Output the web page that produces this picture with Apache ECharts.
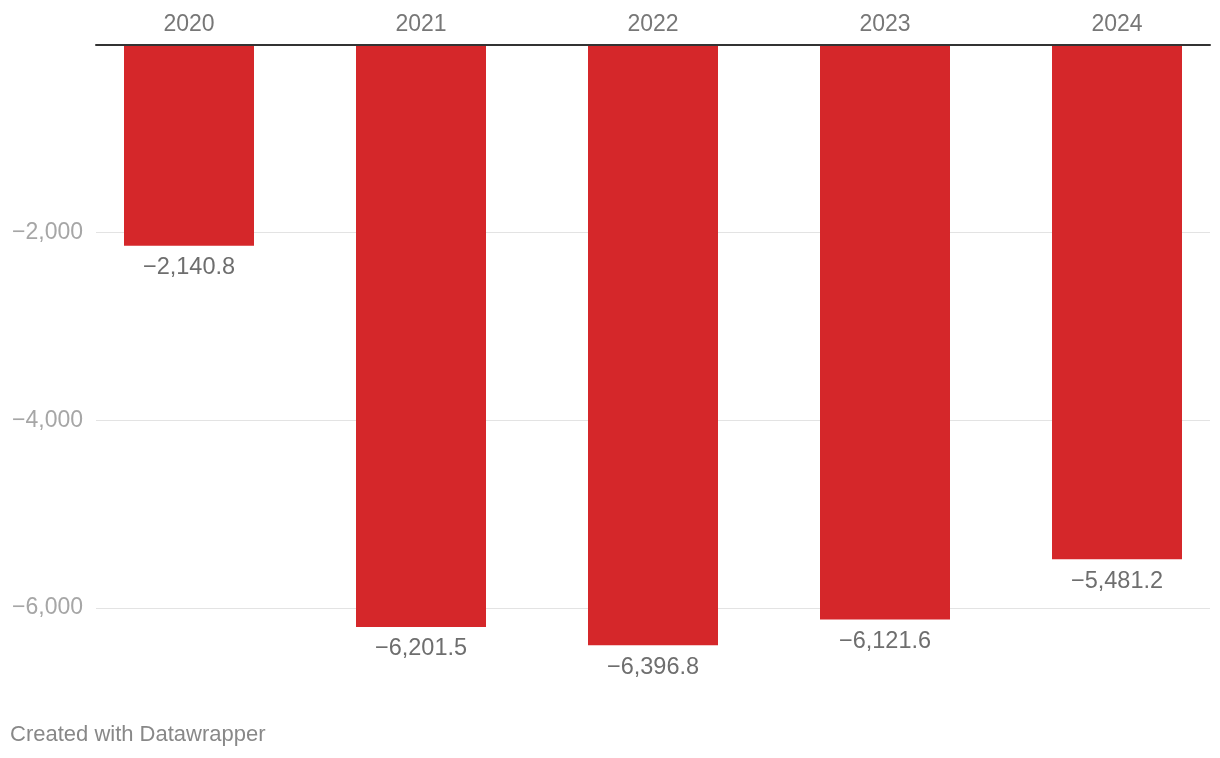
<!DOCTYPE html>
<html>
<head>
<meta charset="utf-8">
<script src="https://cdn.jsdelivr.net/npm/echarts@6/dist/echarts.min.js"></script>
<style>
html,body{margin:0;padding:0;background:#fff;}
#chart{width:1220px;height:758px;}
</style>
</head>
<body>
<div id="chart"></div>
<script>
const years = ['2020', '2021', '2022', '2023', '2024'];
const values = [-2140.8, -6201.5, -6396.8, -6121.6, -5481.2];
const yMin = -7000;
const yMax = 0;
const gridValues = [-2000, -4000, -6000];

const FONT = '"Liberation Sans", Arial, Helvetica, sans-serif';
function fmt(v, dec) {
  const s = Math.abs(v).toLocaleString('en-US', {minimumFractionDigits: dec, maximumFractionDigits: dec});
  return (v < 0 ? '\u2212' : '') + s;
}

const chart = echarts.init(document.getElementById('chart'), null, {renderer: 'canvas'});
chart.setOption({
  animation: false,
  backgroundColor: '#ffffff',
  textStyle: {fontFamily: FONT},
  grid: [
    {left: 73, width: 1160, top: 45, height: 656.8, containLabel: false, outerBoundsMode: 'none'},
    {left: 96, width: 1114, top: 45, height: 656.8, containLabel: false, outerBoundsMode: 'none'}
  ],
  xAxis: [
    {
      gridIndex: 0, type: 'category', data: years, position: 'top',
      axisLine: {show: false}, axisTick: {show: false}, splitLine: {show: false},
      axisLabel: {color: '#777777', fontSize: 23, fontFamily: FONT, margin: 9}
    },
    {
      gridIndex: 1, type: 'category', data: years, position: 'top', z: 10,
      axisLine: {show: true, lineStyle: {color: '#333333', width: 2}},
      axisTick: {show: false}, axisLabel: {show: false}, splitLine: {show: false}
    }
  ],
  yAxis: [
    {
      gridIndex: 0, type: 'value', min: yMin, max: yMax, interval: 1000,
      show: false, splitLine: {show: false}
    },
    {
      gridIndex: 1, type: 'value', min: yMin, max: yMax, interval: 1000,
      axisLine: {show: false}, axisTick: {show: false},
      splitLine: {show: false},
      axisLabel: {
        color: '#a6a6a6', fontSize: 23, fontFamily: FONT, margin: 13,
        formatter: function (v) { return gridValues.indexOf(v) >= 0 ? fmt(v, 0) : ''; }
      }
    }
  ],
  series: [
    {
      type: 'line', xAxisIndex: 1, yAxisIndex: 1, data: [], silent: true, z: 0,
      markLine: {
        silent: true, symbol: 'none', label: {show: false}, z: 0,
        lineStyle: {color: '#e3e3e3', width: 1, type: 'solid'},
        data: gridValues.map(function (v) { return {yAxis: v}; })
      }
    },
    {
      type: 'bar', xAxisIndex: 0, yAxisIndex: 0, data: values, barWidth: 130, z: 3,
      itemStyle: {color: '#d5272a'},
      label: {
        show: true, position: 'bottom', distance: 10,
        color: '#6e6e6e', fontSize: 23.5, fontFamily: FONT,
        formatter: function (p) { return fmt(p.value, 1); }
      }
    }
  ],
  graphic: [
    {
      type: 'text', left: 10, top: 724,
      style: {text: 'Created with Datawrapper', fill: '#888888', font: '22px ' + FONT}
    }
  ]
});
</script>
</body>
</html>
